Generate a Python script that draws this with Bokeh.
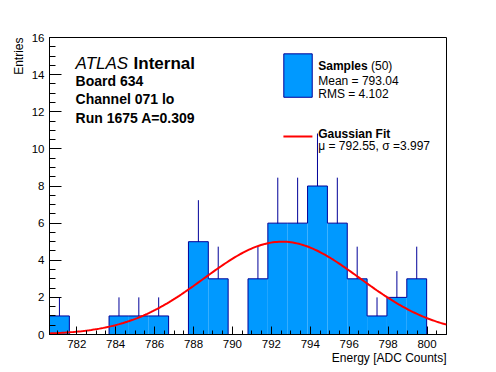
import numpy as np
from bokeh.plotting import figure
from bokeh.models import Range1d, SingleIntervalTicker, Title
from bokeh.core.properties import value
from bokeh.embed import file_html
from bokeh.resources import INLINE

# ---- data ----
x_min = 780.6
x_max = 801.0
n_bins = 20
counts = [1, 0, 0, 1, 1, 1, 0, 5, 3, 0, 3, 6, 6, 8, 6, 3, 1, 2, 3, 0]
fit_mu = 792.55
fit_sigma = 3.997
fit_amp = 5.0
n_entries = 50
mean_val = "793.04"
rms_val = "4.102"
info_lines = ["Board 634", "Channel 071 lo", "Run 1675 A=0.309"]

FONT = "Liberation Sans"
FILL = "#0099ff"
EDGE = "#000099"

edges = np.linspace(x_min, x_max, n_bins + 1)
left = edges[:-1]
right = edges[1:]
centers = 0.5 * (left + right)
cnt = np.array(counts, dtype=float)

p = figure(width=496, height=372, output_backend="svg", toolbar_location=None,
           x_range=Range1d(x_min, x_max), y_range=Range1d(0, 16))
p.min_border_left = 49
p.min_border_right = 50
p.min_border_top = 37
p.min_border_bottom = 38
p.grid.visible = False
p.outline_line_color = "black"
p.outline_line_width = 1
p.background_fill_color = "white"
p.border_fill_color = "white"

# axes
p.xaxis.ticker = SingleIntervalTicker(interval=2, num_minor_ticks=4)
p.yaxis.ticker = SingleIntervalTicker(interval=2, num_minor_ticks=4)
for ax in (p.xaxis, p.yaxis):
    ax.axis_line_color = "black"
    ax.major_tick_line_color = "black"
    ax.minor_tick_line_color = "black"
    ax.major_tick_out = 0
    ax.minor_tick_out = 0
    ax.major_label_text_font = FONT
    ax.major_label_text_font_size = "11.5px"
    ax.major_label_text_color = "black"
p.xaxis.major_tick_in = 8
p.xaxis.minor_tick_in = 4
p.yaxis.major_tick_in = 12
p.yaxis.minor_tick_in = 6
p.xaxis.major_label_standoff = 5
p.yaxis.major_label_standoff = 5

# error bars (drawn under the fill)
has = cnt > 0
err = np.sqrt(cnt)
p.segment(x0=centers[has], y0=(cnt - err)[has], x1=centers[has], y1=(cnt + err)[has],
          line_color=EDGE, line_width=1)

# histogram fill
p.quad(left=left, right=right, bottom=0, top=cnt, fill_color=FILL, line_color=None)

# step outline
sx = [edges[0]]
sy = [0.0]
for i in range(n_bins):
    sx += [left[i], right[i]]
    sy += [cnt[i], cnt[i]]
sx.append(edges[-1])
sy.append(0.0)
p.line(sx, sy, line_color=EDGE, line_width=1)

# gaussian fit curve
gx = np.linspace(x_min, x_max, 200)
gy = fit_amp * np.exp(-0.5 * ((gx - fit_mu) / fit_sigma) ** 2)
p.line(gx, gy, line_color="#ff0000", line_width=2)

# ---- texts (positions in data coords) ----
def txt(x, y, s, size, style="normal", align="left", color="black"):
    p.text(x=[x], y=[y], text=[s], text_font=value(FONT), text_font_size=size,
           text_font_style=style, text_align=align, text_baseline="alphabetic",
           text_color=color)

txt(781.94, 14.58, "ATLAS", "17px", "italic")
txt(784.92, 14.58, "Internal", "17px", "bold")
for i, s in enumerate(info_lines):
    txt(781.94, 13.68 - i * 1.0, s, "14px", "bold")

# legend
p.quad(left=[792.64], right=[794.10], bottom=[12.78], top=[15.12],
       fill_color=FILL, line_color=EDGE, line_width=1)
txt(794.41, 14.44, "Samples", "12px", "bold")
txt(797.12, 14.44, f"({n_entries})", "12px")
txt(794.41, 13.68, f"Mean = {mean_val}", "12px")
txt(794.41, 12.97, f"RMS = {rms_val}", "12px")
p.line([792.62, 794.11], [10.67, 10.67], line_color="#ff0000", line_width=2)
txt(794.41, 10.81, "Gaussian Fit", "12px", "bold")
txt(794.41, 10.14, f"\u03bc = {fit_mu:.2f}, \u03c3 ={fit_sigma:.3f}", "12px")

# axis titles
p.add_layout(Title(text="Entries", align="right", standoff=6,
                   text_font=FONT, text_font_size="12px", text_font_style="normal",
                   text_color="black"), "left")
p.add_layout(Title(text="Energy [ADC Counts]", align="right", standoff=-4,
                   text_font=FONT, text_font_size="12px", text_font_style="normal",
                   text_color="black"), "below")

open("out.html", "w").write(file_html(p, INLINE))
